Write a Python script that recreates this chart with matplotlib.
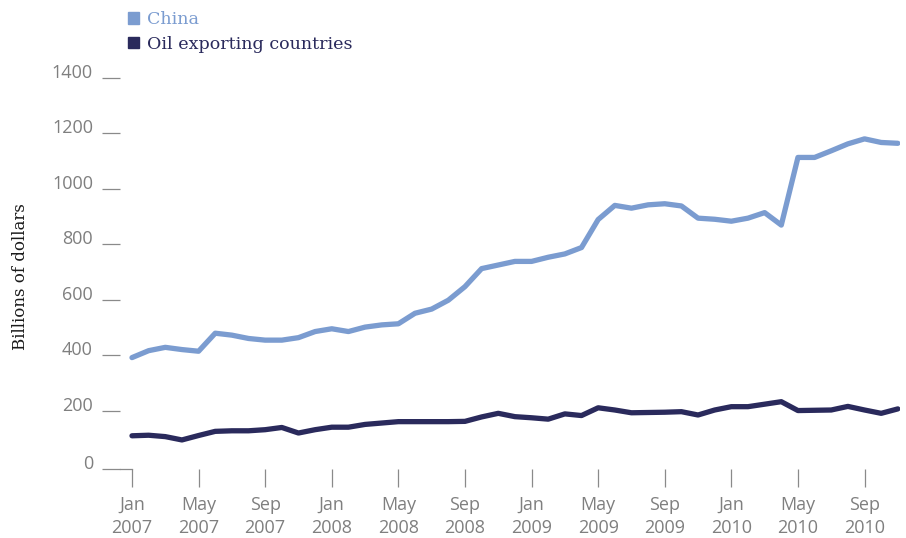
import numpy as np
import matplotlib.pyplot as plt
from matplotlib.patches import Patch

# monthly values, Jan 2007 .. Nov 2010 (billions of dollars)
months = np.arange(47)
china = [391, 416, 428, 420, 414, 479, 472, 460, 454, 454,
         463, 485, 495, 485, 501, 509, 513, 551, 566, 598,
         647, 712, 725, 738, 738, 753, 765, 788, 889, 940,
         930, 942, 946, 938, 894, 890, 883, 894, 914, 869,
         1113, 1113, 1137, 1162, 1180, 1167, 1164]
oil = [109, 111, 106, 94, 110, 125, 127, 127, 131, 139,
       119, 131, 140, 140, 150, 155, 160, 160, 160, 160,
       161, 177, 190, 178, 174, 169, 188, 182, 210, 202,
       192, 193, 194, 196, 184, 202, 214, 214, 223, 232,
       200, 201, 202, 215, 202, 190, 206]

tick_months = list(range(0, 47, 4))
tick_labels = [f"{m}\n{2007 + i // 3}" for i, m in enumerate(["Jan", "May", "Sep"] * 4)]
y_values = [200, 400, 600, 800, 1000, 1200, 1400]

china_col = "#7b9cd0"
oil_col = "#2a2a5c"
grey = "#8a8a8a"

plt.rcParams["font.family"] = ["Open Sans", "DejaVu Sans"]

fig = plt.figure(figsize=(9.06, 5.38), dpi=100)
ax = fig.add_axes([120 / 906, 69 / 538, 780 / 906, 400 / 538])

ax.plot(months, china, color=china_col, lw=3.8, solid_capstyle="round", solid_joinstyle="round")
ax.plot(months, oil, color=oil_col, lw=3.8, solid_capstyle="round", solid_joinstyle="round")

x0, x1 = -0.72, 46.13
y0, y1 = -10.8, 1432
ax.set_xlim(x0, x1)
ax.set_ylim(y0, y1)

# zero tick sits on the axis baseline, a little under the true zero
ax.set_yticks([y0] + y_values, ["0"] + [str(v) for v in y_values])
ax.set_xticks(tick_months, tick_labels)

for s in ["top", "right", "left"]:
    ax.spines[s].set_visible(False)
ax.spines["bottom"].set_bounds(x0, 0)
ax.spines["bottom"].set_color(grey)
ax.spines["bottom"].set_linewidth(0.9)

ax.tick_params(axis="both", direction="out", length=13, width=0.9, color=grey,
               labelcolor="#7f7f7f", labelsize=13)
ax.tick_params(axis="y", pad=6.5)
ax.tick_params(axis="x", pad=6.5)
for t in ax.get_yticklabels():
    t.set_va("baseline")
for t in ax.get_xticklabels():
    t.set_linespacing(1.35)

ax.set_ylabel("Billions of dollars", family="DejaVu Serif", fontsize=12, color="#1a1a1a")
ax.yaxis.set_label_coords(-0.117, 0.48)

handles = [Patch(color=china_col, label="China"),
           Patch(color=oil_col, label="Oil exporting countries")]
ax.legend(handles=handles, loc="upper left", bbox_to_anchor=(128 / 906, 1 - 11 / 538),
          bbox_transform=fig.transFigure, frameon=False,
          prop={"family": "DejaVu Serif", "size": 12.6},
          handlelength=0.62, handleheight=0.62, handletextpad=0.45,
          labelspacing=0.45, borderpad=0, borderaxespad=0,
          labelcolor=[china_col, oil_col])

fig.savefig("out.png", dpi=100)
